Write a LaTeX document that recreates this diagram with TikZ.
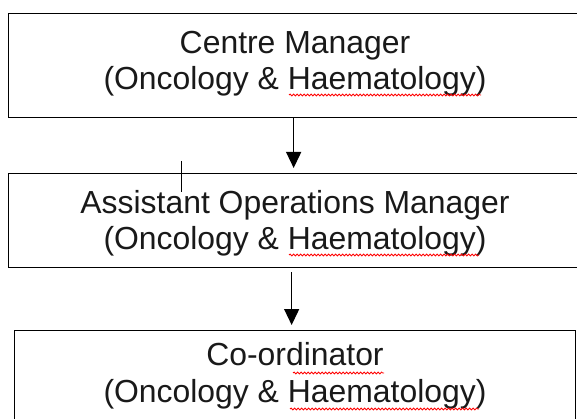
\documentclass[tikz,border=0pt]{standalone}
\usepackage{fontspec}
\setmainfont{Liberation Sans}
\usetikzlibrary{arrows.meta,decorations.pathmorphing}
\begin{document}
\begin{tikzpicture}[x=1pt,y=-1pt,
  box/.style={draw=black,line width=1.3pt,rectangle,inner sep=0pt,anchor=north west},
  lbl/.style={anchor=base,inner sep=0pt,text=black!90,font=\fontsize{31.9}{36}\selectfont},
  conn/.style={line width=1.3pt,-{Triangle[width=15pt,length=16pt]}},
  spell/.style={red,line width=0.8pt,decorate,decoration={snake,segment length=3.5pt,amplitude=1pt}},
  tickline/.style={line width=1pt}]
\useasboundingbox (0,0) rectangle (577,419);
\clip (0,0) rectangle (577,419);
% boxes (the first two run past the right edge)
\node[box,minimum width=600pt,minimum height=104pt] (b1) at (8,13) {};
\node[box,minimum width=600pt,minimum height=94pt] (b2) at (8,173) {};
\node[box,minimum width=561pt,minimum height=100pt] (b3) at (14,330) {};
% texts
\node[lbl] (t1a) at (295,54) {Centre Manager};
\node[lbl] (t1b) at (295,90) {(Oncology \& Haematology)};
\node[lbl] (t2a) at (295,214) {Assistant Operations Manager};
\node[lbl] (t2b) at (295,250) {(Oncology \& Haematology)};
\node[lbl] (t3a) at (295,365) {Co-ordinator};
\node[lbl] (t3b) at (295,402) {(Oncology \& Haematology)};
% connectors
\draw[conn] ([xshift=-15pt]b1.south) -- ([xshift=-15pt,yshift=5pt]b2.north);
\draw[conn] ([xshift=-17pt,yshift=-4pt]b2.south) -- ([xshift=-3.5pt,yshift=5pt]b3.north);
% stray tick
\coordinate (k1) at (181,161);
\coordinate (k2) at (181,192);
\draw[tickline] (k1) -- (k2);
% spell-check underlines
\draw[spell] (289,95) -- (481,95);
\draw[spell] (289,255) -- (479,255);
\draw[spell] (293,373) -- (384,373);
\draw[spell] (290,409) -- (479,409);
\end{tikzpicture}
\end{document}
